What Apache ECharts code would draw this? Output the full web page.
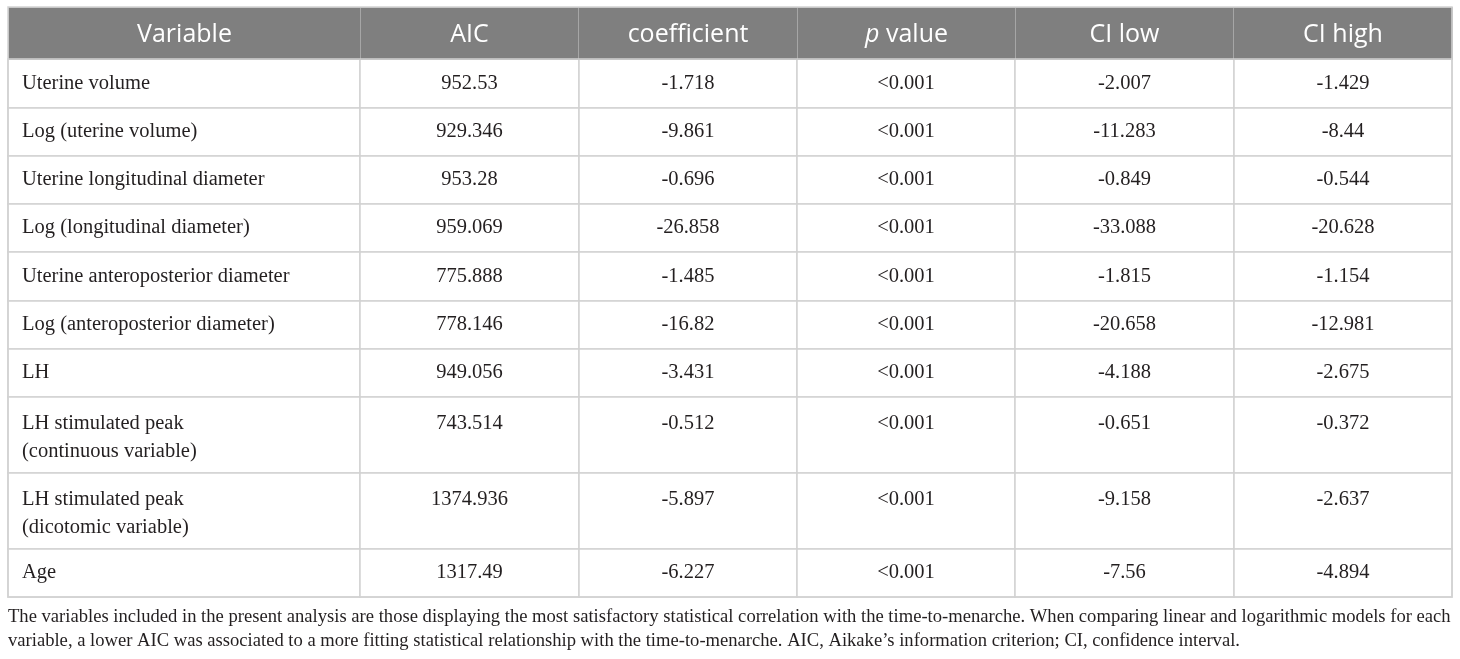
<!DOCTYPE html>
<html>
<head>
<meta charset="utf-8">
<script src="https://cdn.jsdelivr.net/npm/echarts@6/dist/echarts.min.js"></script>
<style>
html, body { margin: 0; padding: 0; background: #fff; }
#main { width: 1460px; height: 659px; }
</style>
</head>
<body>
<div id="main"></div>
<script>
// table content
var columns = ['Variable', 'AIC', 'coefficient', '{i|p} value', 'CI low', 'CI high'];
var variables = [
  'Uterine volume',
  'Log (uterine volume)',
  'Uterine longitudinal diameter',
  'Log (longitudinal diameter)',
  'Uterine anteroposterior diameter',
  'Log (anteroposterior diameter)',
  'LH',
  'LH stimulated peak\n(continuous variable)',
  'LH stimulated peak\n(dicotomic variable)',
  'Age'
];
var aic = ['952.53', '929.346', '953.28', '959.069', '775.888', '778.146', '949.056', '743.514', '1374.936', '1317.49'];
var coefficient = ['-1.718', '-9.861', '-0.696', '-26.858', '-1.485', '-16.82', '-3.431', '-0.512', '-5.897', '-6.227'];
var pValue = ['<0.001', '<0.001', '<0.001', '<0.001', '<0.001', '<0.001', '<0.001', '<0.001', '<0.001', '<0.001'];
var ciLow = ['-2.007', '-11.283', '-0.849', '-33.088', '-1.815', '-20.658', '-4.188', '-0.651', '-9.158', '-7.56'];
var ciHigh = ['-1.429', '-8.44', '-0.544', '-20.628', '-1.154', '-12.981', '-2.675', '-0.372', '-2.637', '-4.894'];
var caption = 'The variables included in the present analysis are those displaying the most satisfactory statistical correlation with the time-to-menarche. When comparing linear and logarithmic models for each\n' +
  'variable, a lower AIC was associated to a more fitting statistical relationship with the time-to-menarche. AIC, Aikake\u2019s information criterion; CI, confidence interval.';

var serif = 'Liberation Serif';
var lineColor = '#d2d2d2';

var isTall = function (name) { return name.indexOf('\n') >= 0; };

var cols = [variables, aic, coefficient, pValue, ciLow, ciHigh];
var bodyData = [];
variables.forEach(function (name, r) {
  var tall = isTall(name);
  cols.forEach(function (arr, c) {
    var label = {};
    if (c === 0) {
      label.position = tall ? 'insideTopLeft' : 'insideLeft';
      label.distance = 11;
      label.align = 'left';
    } else {
      label.position = tall ? 'insideTop' : 'inside';
      label.distance = 11;
    }
    bodyData.push({ coord: [c, r], value: String(arr[r]), label: label });
  });
});

var myChart = echarts.init(document.getElementById('main'));
var option = {
  animation: false,
  title: {
    text: caption,
    left: 8,
    top: 605,
    padding: 0,
    textStyle: {
      fontFamily: serif,
      fontSize: 18.6,
      fontWeight: 'normal',
      lineHeight: 24,
      color: '#231f20'
    }
  },
  matrix: {
    left: 8,
    top: 7,
    width: 1444,
    height: 590,
    backgroundStyle: { color: '#fff', borderColor: lineColor, borderWidth: 1.5 },
    x: {
      data: columns.map(function (col, i) {
        return { value: col, size: i === 0 ? 352 : 218.4 };
      }),
      levelSize: 52,
      itemStyle: { color: '#7f7f7f', borderColor: '#a6a6a6', borderWidth: 1 },
      label: {
        position: 'inside',
        align: 'center',
        verticalAlign: 'middle',
        padding: [12, 0, 0, 0],
        color: '#fff',
        fontFamily: 'Open Sans',
        fontSize: 25,
        lineHeight: 30,
        rich: {
          i: { fontFamily: 'Open Sans', fontSize: 25, lineHeight: 30, fontStyle: 'italic', color: '#fff' }
        }
      },
      dividerLineStyle: { color: lineColor, width: 1.5 }
    },
    y: {
      show: false,
      data: variables.map(function (name) {
        return { value: name, size: isTall(name) ? 76 : 48.3 };
      })
    },
    body: {
      data: bodyData,
      itemStyle: { color: '#fff', borderColor: lineColor, borderWidth: 1.5 },
      label: {
        color: '#231f20',
        fontFamily: serif,
        fontSize: 20.5,
        lineHeight: 28
      }
    }
  }
};
myChart.setOption(option);
</script>
</body>
</html>
